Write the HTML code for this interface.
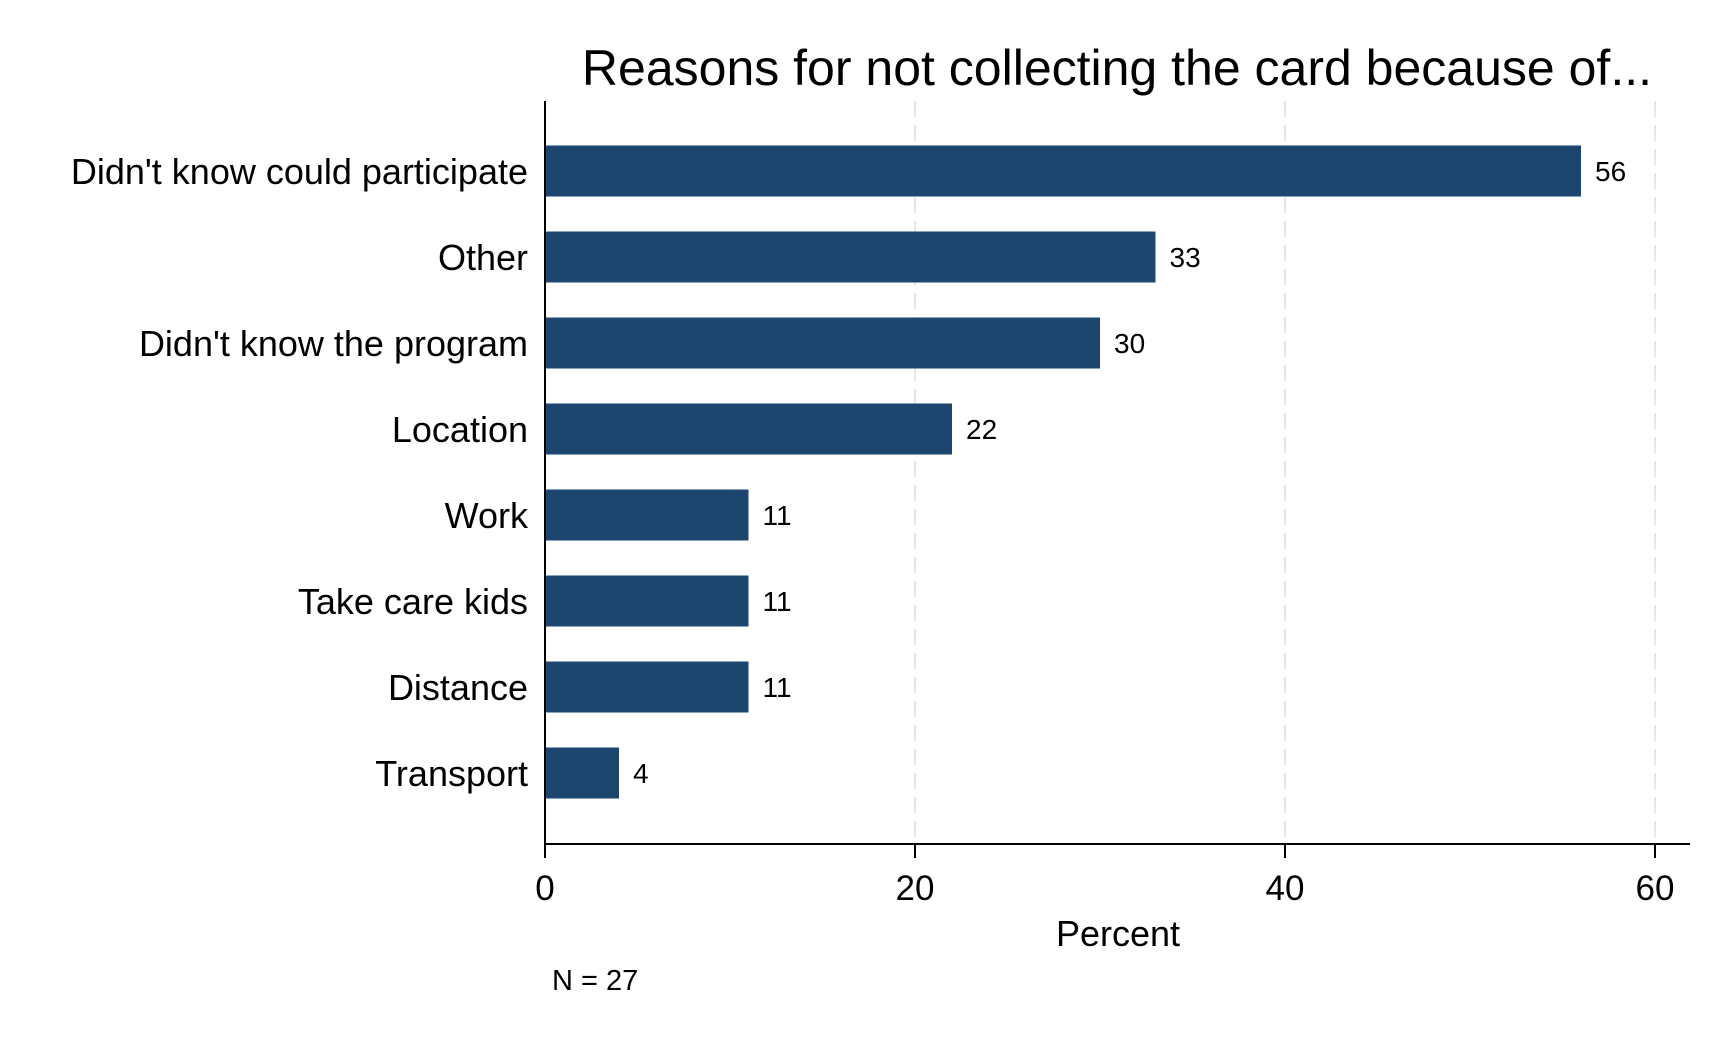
<!DOCTYPE html>
<html><head><meta charset="utf-8"><style>
html,body{margin:0;padding:0;background:#fff;}
svg{display:block;font-family:"Liberation Sans",Arial,sans-serif;}
</style></head><body>
<svg id="chart" width="1730" height="1038" viewBox="0 0 1730 1038" xmlns="http://www.w3.org/2000/svg">
<rect width="1730" height="1038" fill="#fff"/>
<text x="1652" y="85" text-anchor="end" font-size="50" fill="#000">Reasons for not collecting the card because of...</text>
<g id="grid"></g>
<g id="bars"></g>
<line x1="545" y1="101" x2="545" y2="844" stroke="#000" stroke-width="2"/>
<line x1="545" y1="844" x2="1690" y2="844" stroke="#000" stroke-width="2"/>
<g id="ticks"></g>
<text x="1118" y="946" text-anchor="middle" font-size="36" fill="#000">Percent</text>
<text x="552" y="990" font-size="29" fill="#000">N = 27</text>
</svg>
<script>
const categories = ["Didn't know could participate","Other","Didn't know the program","Location","Work","Take care kids","Distance","Transport"];
const values = [56,33,30,22,11,11,11,4];
const xTicks = [0,20,40,60];
const NS="http://www.w3.org/2000/svg";
const x0=545, pxPer=370/20;
function xs(v){return x0+v*pxPer;}
function yc(i){return 171+i*86;}
function mk(tag,attrs,parent){const e=document.createElementNS(NS,tag);for(const k in attrs)e.setAttribute(k,attrs[k]);parent.appendChild(e);return e;}
const grid=document.getElementById('grid'),bars=document.getElementById('bars'),ticks=document.getElementById('ticks');
xTicks.forEach(t=>{
  if(t>0){const g=mk('line',{x1:xs(t),x2:xs(t),y1:101,y2:844,stroke:'#e6e6e6','stroke-width':2,'stroke-dasharray':'16,8'},grid);
  
  }
  const tk=mk('line',{x1:xs(t),x2:xs(t),y1:844,y2:858,stroke:'#000','stroke-width':2},ticks);
  
  
  const tl=mk('text',{x:xs(t),y:900,'text-anchor':'middle','font-size':35,fill:'#000'},ticks);
  tl.textContent=t;
  
  
});
categories.forEach((c,i)=>{
  const y=yc(i);
  const r=mk('rect',{x:x0,y:y-25.5,width:xs(values[i])-x0,height:51,fill:'#1c466d'},bars);
  
  
  const l=mk('text',{x:528,y:y+13,'text-anchor':'end','font-size':36,fill:'#000'},bars);
  l.textContent=c;
  
  
  const v=mk('text',{x:xs(values[i])+14,y:y+10,'font-size':28,fill:'#000'},bars);
  v.textContent=values[i];
  
  
});
</script>
</body></html>
